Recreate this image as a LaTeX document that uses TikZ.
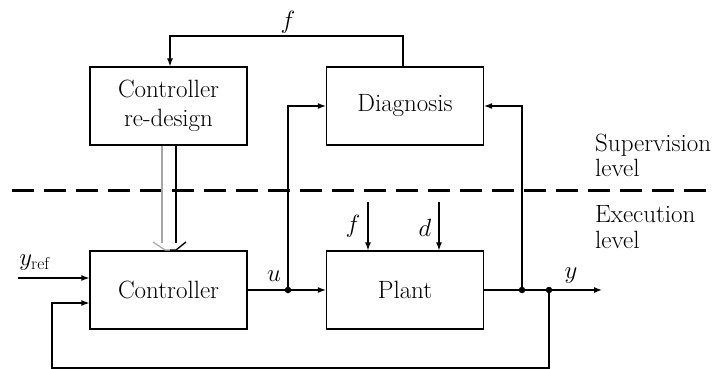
\documentclass[tikz,border=0pt]{standalone}
\usetikzlibrary{arrows.meta}
\begin{document}
\begin{tikzpicture}[x=1pt,y=-1pt,
  blk/.style={draw,line width=1.3pt,minimum width=157pt,minimum height=78pt,align=center,inner sep=0pt,
    font=\fontsize{25}{29}\selectfont},
  lbl/.style={font=\fontsize{25}{29}\selectfont,inner sep=0pt},
  sig/.style={line width=1.2pt},
  arr/.style={sig,-{Latex[length=8pt,width=6pt]}},
  dot/.style={circle,fill,inner sep=0pt,minimum size=6.5pt}]
\useasboundingbox (0,0) rectangle (713,369);
\node[blk] (red) at (168.5,106) {Controller\\re-design};
\node[blk] (diag) at (405,106) {Diagnosis};
\node[blk] (ctrl) at (168.5,290) {Controller};
\node[blk] (plant) at (405,290) {Plant};
% dashed separator
\draw[line width=3pt,dash pattern=on 22pt off 10pt] (12,190) -- (713,190);
% level labels
\node[lbl,anchor=base west] (sup) at (595,151) {Supervision};
\node[lbl,anchor=base west] (sup2) at (595,176) {level};
\node[lbl,anchor=base west] (exe) at (595,222) {Execution};
\node[lbl,anchor=base west] (exe2) at (595,248) {level};
% junctions
\node[dot] (ju) at (288,290) {};
\node[dot] (jy1) at (522,290) {};
\node[dot] (jy2) at (549,290) {};
\coordinate (yend) at (602,290);
\coordinate (yrefs) at (18,278);
% f feedback
\draw[arr] (diag.north -| 403,0) |- (170,36) -- (red.north -| 170,0);
\node[lbl] (flab) at (288,22) {$f$};
% controller to plant
\draw[sig] (ctrl.east) -- (ju);
\draw[arr] (ju) -- (plant.west);
\node[lbl] (ulab) at (274,276) {$u$};
\draw[arr] (ju) |- (diag.west |- 0,106);
% plant output
\draw[sig] (plant.east) -- (jy1);
\draw[sig] (jy1) -- (jy2);
\draw[arr] (jy2) -- (yend);
\node[lbl] (ylab) at (571,276) {$y$};
\draw[arr] (jy1) |- (diag.east |- 0,106);
% feedback to controller
\draw[arr] (jy2) |- (52,368) |- (ctrl.west |- 0,303);
% reference
\draw[arr] (yrefs) -- (ctrl.west |- yrefs);
\node[lbl] (yref) at (35,263) {$y_{\mathrm{ref}}$};
% disturbances
\coordinate (fin) at (368,202);
\coordinate (din) at (439,202);
\draw[arr] (fin) -- (plant.north -| fin);
\draw[arr] (din) -- (plant.north -| din);
\node[lbl] (flab2) at (353,226) {$f$};
\node[lbl] (dlab) at (425,228) {$d$};
% redesign to controller (double arrow)
\draw[line width=1.2pt,gray!70] (red.south -| 162,0) -- (162,243);
\draw[line width=1.4pt] (red.south -| 176,0) -- (176,243);
\draw[line width=1.2pt,gray!70,line join=round] (153,242) -- (165,250) -- (170,250);
\draw[line width=1.4pt,line join=round] (186,242) -- (176,250) -- (170,250);
\end{tikzpicture}
\end{document}
